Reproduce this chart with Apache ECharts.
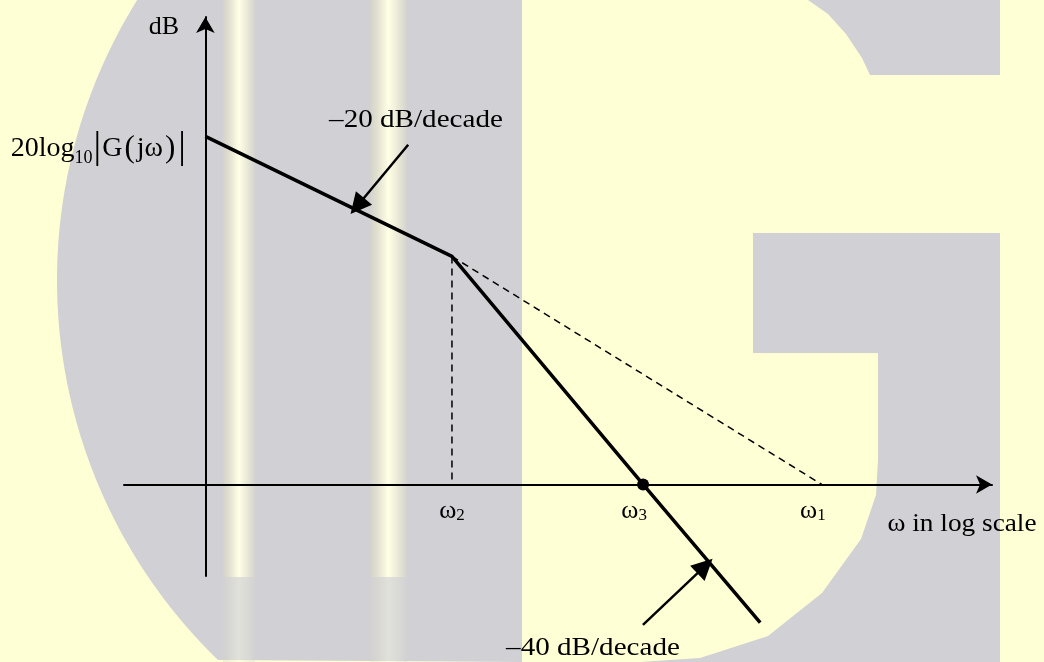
<!DOCTYPE html>
<html>
<head>
<meta charset="utf-8">
<script src="https://cdn.jsdelivr.net/npm/echarts@6/dist/echarts.min.js"></script>
<style>
  html, body { margin: 0; padding: 0; background: #FFFFD6; }
  #main { width: 1044px; height: 662px; }
</style>
</head>
<body>
<div id="main"></div>
<script>
// x is log10(w) in arbitrary decades, y is magnitude in dB
var asymptote = [[0, 116], [2, 76], [3.55, 0], [4.5, -46]];   // solid Bode asymptote
var extension = [[2, 76], [5, 0]];                              // dashed -20 dB/decade continued
var cornerDrop = [[2, 76], [2, 0]];                             // dashed drop at w2
var crossing = [[3.55, 0]];                                     // dot at w3
var slopeArrows = [
    [[1.645, 113.2], [1.232, 92.8]],
    [[3.549, -46.8], [4.052, -27.2]]
];
var tickValues = [2, 3.55, 5];
var tickSubs = ['2', '3', '1'];
var startDb = 116;

var FONT = '"Liberation Serif", "DejaVu Serif", serif';
var GRAY = '#D1D1D5';

// watermark "G" behind the chart
function outerArc() {
    var cx = 586, cy = 280, r = 529, pts = [];
    for (var y = 0; y <= 662; y += 6) {
        pts.push([cx - Math.sqrt(r * r - (y - cy) * (y - cy)), y]);
    }
    pts.push([522, 662]);
    pts.push([522, 0]);
    return pts;
}
function stripe(x, w, y, h, op) {
    return {
        type: 'rect', z: -1, silent: true,
        shape: { x: x, y: y, width: w, height: h },
        style: {
            opacity: op,
            fill: {
                type: 'linear', x: 0, y: 0, x2: 1, y2: 0,
                colorStops: [
                    { offset: 0, color: '#D4D3CC' },
                    { offset: 0.2, color: '#E2E0CF' },
                    { offset: 0.5, color: '#FFFFE6' },
                    { offset: 0.8, color: '#E6E5D5' },
                    { offset: 1, color: '#D4D3D0' }
                ]
            }
        }
    };
}
var watermark = [
    { type: 'polygon', z: -1, silent: true, shape: { points: outerArc() }, style: { fill: GRAY } },
    stripe(223, 32, 0, 577, 1),
    stripe(370, 37, 0, 577, 1),
    stripe(223, 32, 577, 85, 0.35),
    stripe(370, 37, 577, 85, 0.35),
    { type: 'rect', z: -1, silent: true, shape: { x: 753, y: 233, width: 247, height: 120 }, style: { fill: GRAY } },
    { type: 'rect', z: -1, silent: true, shape: { x: 878, y: 233, width: 122, height: 429 }, style: { fill: GRAY } },
    { type: 'polygon', z: -1, silent: true,
      shape: { points: [[600, 662], [640, 662], [700, 658], [768, 636], [822, 593], [861, 539], [876, 495], [878, 460], [878, 662]] },
      style: { fill: GRAY } },
    { type: 'polygon', z: -1, silent: true,
      shape: { points: [[808, 0], [1000, 0], [1000, 75], [870, 75], [862, 58], [846, 34], [828, 14]] },
      style: { fill: GRAY } }
];

function txt(x, y, s, size, sx) {
    return {
        type: 'text', z: 100, x: x, y: y, scaleX: sx || 1,
        style: { text: s, font: size + 'px ' + FONT, fill: '#000', align: 'center', verticalAlign: 'middle' }
    };
}
var labels = [
    txt(164, 27, 'dB', 26),
    txt(416, 120, '\u201320 dB/decade', 26, 1.12),
    txt(593, 648, '\u201340 dB/decade', 26, 1.12),
    txt(962, 524, '\u03c9 in log scale', 26, 1.05)
];

var myChart = echarts.init(document.getElementById('main'));
var option = {
    backgroundColor: '#FFFFD6',
    animation: false,
    graphic: watermark.concat(labels),
    grid: { left: 124, right: 52, top: 17, bottom: 86, containLabel: false, outerBoundsMode: 'none' },
    xAxis: {
        type: 'value', min: -0.66, max: 6.38,
        splitLine: { show: false },
        axisTick: { show: false },
        axisLabel: { show: false },
        axisLine: {
            onZero: true,
            symbol: ['none', 'arrow'], symbolSize: [14, 16],
            lineStyle: { color: '#000', width: 2 }
        }
    },
    yAxis: {
        type: 'value', min: -30.5, max: 155.8,
        splitLine: { show: false },
        axisTick: { show: false },
        axisLabel: { show: false },
        axisLine: {
            onZero: true,
            symbol: ['none', 'arrow'], symbolSize: [14, 16],
            lineStyle: { color: '#000', width: 2 }
        }
    },
    series: [
        {
            type: 'line', data: asymptote, symbol: 'none', z: 5, clip: false,
            lineStyle: { color: '#000', width: 3.5 }
        },
        {
            type: 'line', data: extension, symbol: 'none', z: 4, clip: false,
            lineStyle: { color: '#000', width: 1.5, type: [7, 5] }
        },
        {
            type: 'line', data: cornerDrop, symbol: 'none', z: 4, clip: false,
            lineStyle: { color: '#000', width: 1.5, type: [7, 5] }
        },
        {
            type: 'scatter', data: crossing, symbolSize: 12, z: 6, clip: false,
            itemStyle: { color: '#000', opacity: 1 }
        },
        {
            // frequency names under the axis
            type: 'scatter', z: 7, clip: false, silent: true,
            data: tickValues.map(function (v) { return [v, 0]; }),
            symbolSize: 1,
            itemStyle: { color: 'rgba(0,0,0,0)', opacity: 1 },
            label: {
                show: true, position: 'bottom', distance: 13,
                formatter: function (p) {
                    var i = p.dataIndex;
                    return '{w|\u03c9}{s|' + tickSubs[i] + '}' + (i > 0 ? '{pad|}' : '');
                },
                rich: {
                    w: { fontFamily: FONT, fontSize: 26, color: '#000' },
                    s: { fontFamily: FONT, fontSize: 17, color: '#000', verticalAlign: 'bottom', padding: [8, 0, 0, 0] },
                    pad: { width: 18 }
                }
            }
        },
        {
            // magnitude name beside the start of the asymptote
            type: 'scatter', z: 7, clip: false, silent: true,
            data: [[0, startDb]],
            symbolSize: 1,
            itemStyle: { color: 'rgba(0,0,0,0)', opacity: 1 },
            label: {
                show: true, position: 'left', distance: 18, offset: [0, 12],
                formatter: '{n|20log}{sub|10}{bar||}{n|G}{p|(}{n|j\u03c9}{p|)}{bar||}',
                rich: {
                    n: { fontFamily: FONT, fontSize: 28, color: '#000' },
                    sub: { fontFamily: FONT, fontSize: 18, color: '#000', verticalAlign: 'bottom', padding: [10, 0, 0, 0] },
                    p: { fontFamily: FONT, fontSize: 31, color: '#000', padding: [0, 2, 0, 2] },
                    bar: { fontFamily: FONT, fontSize: 38, color: '#000', padding: [0, 1, 0, 1] }
                }
            }
        },
        {
            type: 'lines', coordinateSystem: 'cartesian2d', z: 6, clip: false,
            symbol: ['none', 'triangle'], symbolSize: 21,
            lineStyle: { color: '#000', width: 2.5, opacity: 1 },
            data: slopeArrows.map(function (c) { return { coords: c }; })
        }
    ]
};
myChart.setOption(option);
</script>
</body>
</html>
